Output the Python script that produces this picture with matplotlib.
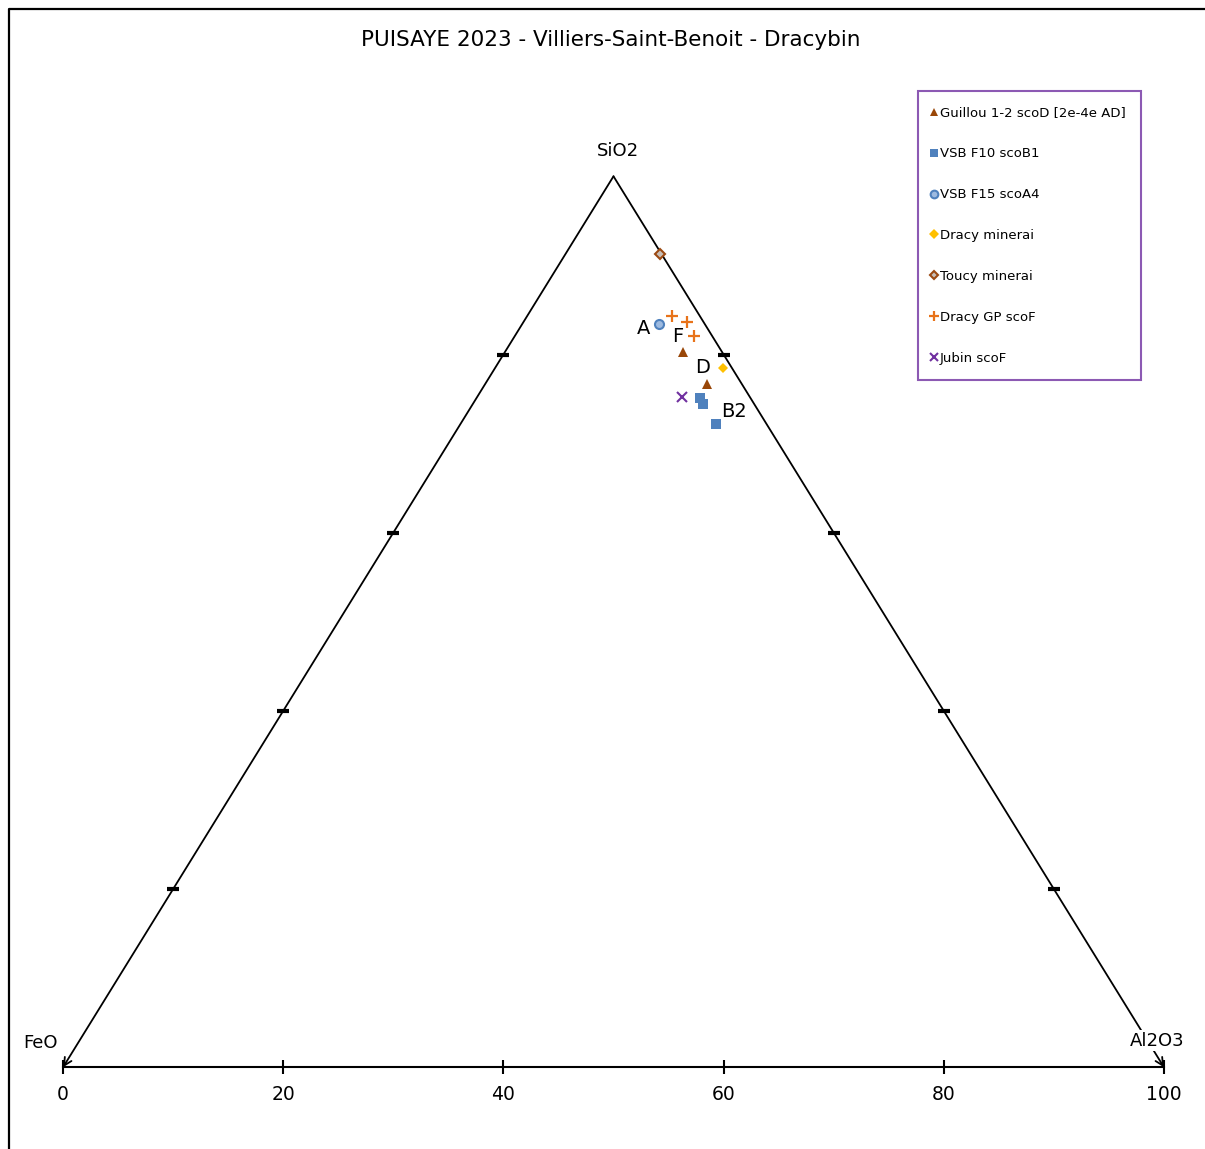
import numpy as np
import matplotlib
matplotlib.use("Agg")
import matplotlib.pyplot as plt
from matplotlib.lines import Line2D

# compositions in % (SiO2, Al2O3, FeO)
guillou_sio2 = [80.3, 76.7]
guillou_al2o3 = [16.2, 20.1]
guillou_feo = [3.5, 3.2]

vsb_f10_sio2 = [75.1, 74.4, 72.2]
vsb_f10_al2o3 = [20.3, 20.9, 23.2]
vsb_f10_feo = [4.6, 4.7, 4.6]

vsb_f15_sio2 = [83.4]
vsb_f15_al2o3 = [12.4]
vsb_f15_feo = [4.2]

dracy_min_sio2 = [78.5]
dracy_min_al2o3 = [20.7]
dracy_min_feo = [0.8]

toucy_sio2 = [91.3]
toucy_al2o3 = [8.6]
toucy_feo = [0.1]

dracy_gp_sio2 = [84.3, 83.7, 82.1]
dracy_gp_al2o3 = [13.2, 14.8, 16.3]
dracy_gp_feo = [2.5, 1.5, 1.6]

jubin_sio2 = [75.2]
jubin_al2o3 = [18.6]
jubin_feo = [6.2]

ticks = [0, 20, 40, 60, 80, 100]
edge_ticks = [20, 40, 60, 80]


def tern(si, al, fe):
    si = np.array(si, float)
    al = np.array(al, float)
    fe = np.array(fe, float)
    tot = si + al + fe
    si = si / tot * 100
    al = al / tot * 100
    return al + si / 2, si


W, H = 1205, 1149
fig = plt.figure(figsize=(W / 100, H / 100), dpi=100)
ax = fig.add_axes([63 / W, (H - 1067.3) / H, 1101 / W, 891 / H])
ax.set_xlim(0, 100)
ax.set_ylim(0, 100)
for s in ["top", "right", "left"]:
    ax.spines[s].set_visible(False)
ax.spines["bottom"].set_linewidth(1.5)
ax.set_yticks([])
ax.set_xticks(ticks)
ax.tick_params(axis="x", direction="inout", length=10, width=1.5, labelsize=13.5, pad=8)
ax.patch.set_alpha(0)

# triangle edges with open arrows towards the base corners
for corner in [(0, 0), (100, 0)]:
    ax.annotate("", xy=corner, xytext=(50, 100),
                arrowprops=dict(arrowstyle="->", lw=1.3, color="black",
                                shrinkA=0, shrinkB=0, mutation_scale=14),
                annotation_clip=False)

# edge graduation marks
for s in edge_ticks:
    ax.plot([s / 2, 100 - s / 2], [s, s], linestyle="none", marker="_",
            markersize=8, markeredgewidth=3, color="black", clip_on=False)

# series
series = [
    ("Guillou 1-2 scoD [2e-4e AD]", guillou_sio2, guillou_al2o3, guillou_feo,
     dict(marker="^", color="#994708", markersize=7, markeredgewidth=0)),
    ("VSB F10 scoB1", vsb_f10_sio2, vsb_f10_al2o3, vsb_f10_feo,
     dict(marker="s", color="#4F81BD", markersize=6.5, markeredgewidth=0)),
    ("VSB F15 scoA4", vsb_f15_sio2, vsb_f15_al2o3, vsb_f15_feo,
     dict(marker="o", markerfacecolor="#9DBAE0", markeredgecolor="#4F81BD",
          markersize=6.5, markeredgewidth=1.5)),
    ("Dracy minerai", dracy_min_sio2, dracy_min_al2o3, dracy_min_feo,
     dict(marker="D", color="#FFC000", markersize=5.5, markeredgewidth=0)),
    ("Toucy minerai", toucy_sio2, toucy_al2o3, toucy_feo,
     dict(marker="D", markerfacecolor="#C8BFB8", markeredgecolor="#9C4A12",
          markersize=5, markeredgewidth=1.5)),
    ("Dracy GP scoF", dracy_gp_sio2, dracy_gp_al2o3, dracy_gp_feo,
     dict(marker="+", color="#E8731A", markersize=8, markeredgewidth=1.6)),
    ("Jubin scoF", jubin_sio2, jubin_al2o3, jubin_feo,
     dict(marker="x", color="#7030A0", markersize=7, markeredgewidth=1.5)),
]
pts = {}
for name, si, al, fe, style in series:
    x, y = tern(si, al, fe)
    pts[name] = (x, y)
    ax.plot(x, y, linestyle="none", label=name, clip_on=False, zorder=3, **style)

# point labels
def lab(txt, name, i, dx, dy):
    x, y = pts[name]
    ax.annotate(txt, (x[i], y[i]), xytext=(dx, dy), textcoords="offset points",
                ha="center", va="center", fontsize=14)

lab("A", "VSB F15 scoA4", 0, -11, -3)
lab("F", "Dracy GP scoF", 0, 3.6, -14.4)
lab("D", "Guillou 1-2 scoD [2e-4e AD]", 1, -3, 12)
lab("B2", "VSB F10 scoB1", 2, 13, 9)

# corner names
ax.text(50, 100, "SiO2", ha="center", va="bottom", fontsize=13,
        transform=ax.transData + matplotlib.transforms.ScaledTranslation(3.5 / 72, 12 / 72, fig.dpi_scale_trans))
ax.text(0, 0, "FeO", ha="center", va="center", fontsize=13,
        transform=ax.transData + matplotlib.transforms.ScaledTranslation(-16 / 72, 17.5 / 72, fig.dpi_scale_trans))
ax.text(100, 0, "Al2O3", ha="center", va="center", fontsize=13, zorder=5,
        bbox=dict(facecolor="white", edgecolor="none", pad=1),
        transform=ax.transData + matplotlib.transforms.ScaledTranslation(-5 / 72, 19 / 72, fig.dpi_scale_trans))

fig.text(611 / W, 1 - 40 / H, "PUISAYE 2023 - Villiers-Saint-Benoit - Dracybin",
         ha="center", va="center", fontsize=15.5)

leg = fig.legend(loc="upper left", bbox_to_anchor=(918 / W, 1 - 91 / H),
                 fontsize=9.5, labelspacing=2.12, handlelength=0.2,
                 handletextpad=0.3, borderpad=1.15, borderaxespad=0,
                 fancybox=False, frameon=True, numpoints=1, markerscale=0.85)
leg.get_frame().set_edgecolor("#7030A0")
leg.get_frame().set_linewidth(1.5)

# chart area border
fig.add_artist(Line2D([8.5 / W, 8.5 / W, 1], [0, 1 - 9 / H, 1 - 9 / H],
                      transform=fig.transFigure, color="black", lw=1.6))

fig.savefig("out.png", dpi=100)
